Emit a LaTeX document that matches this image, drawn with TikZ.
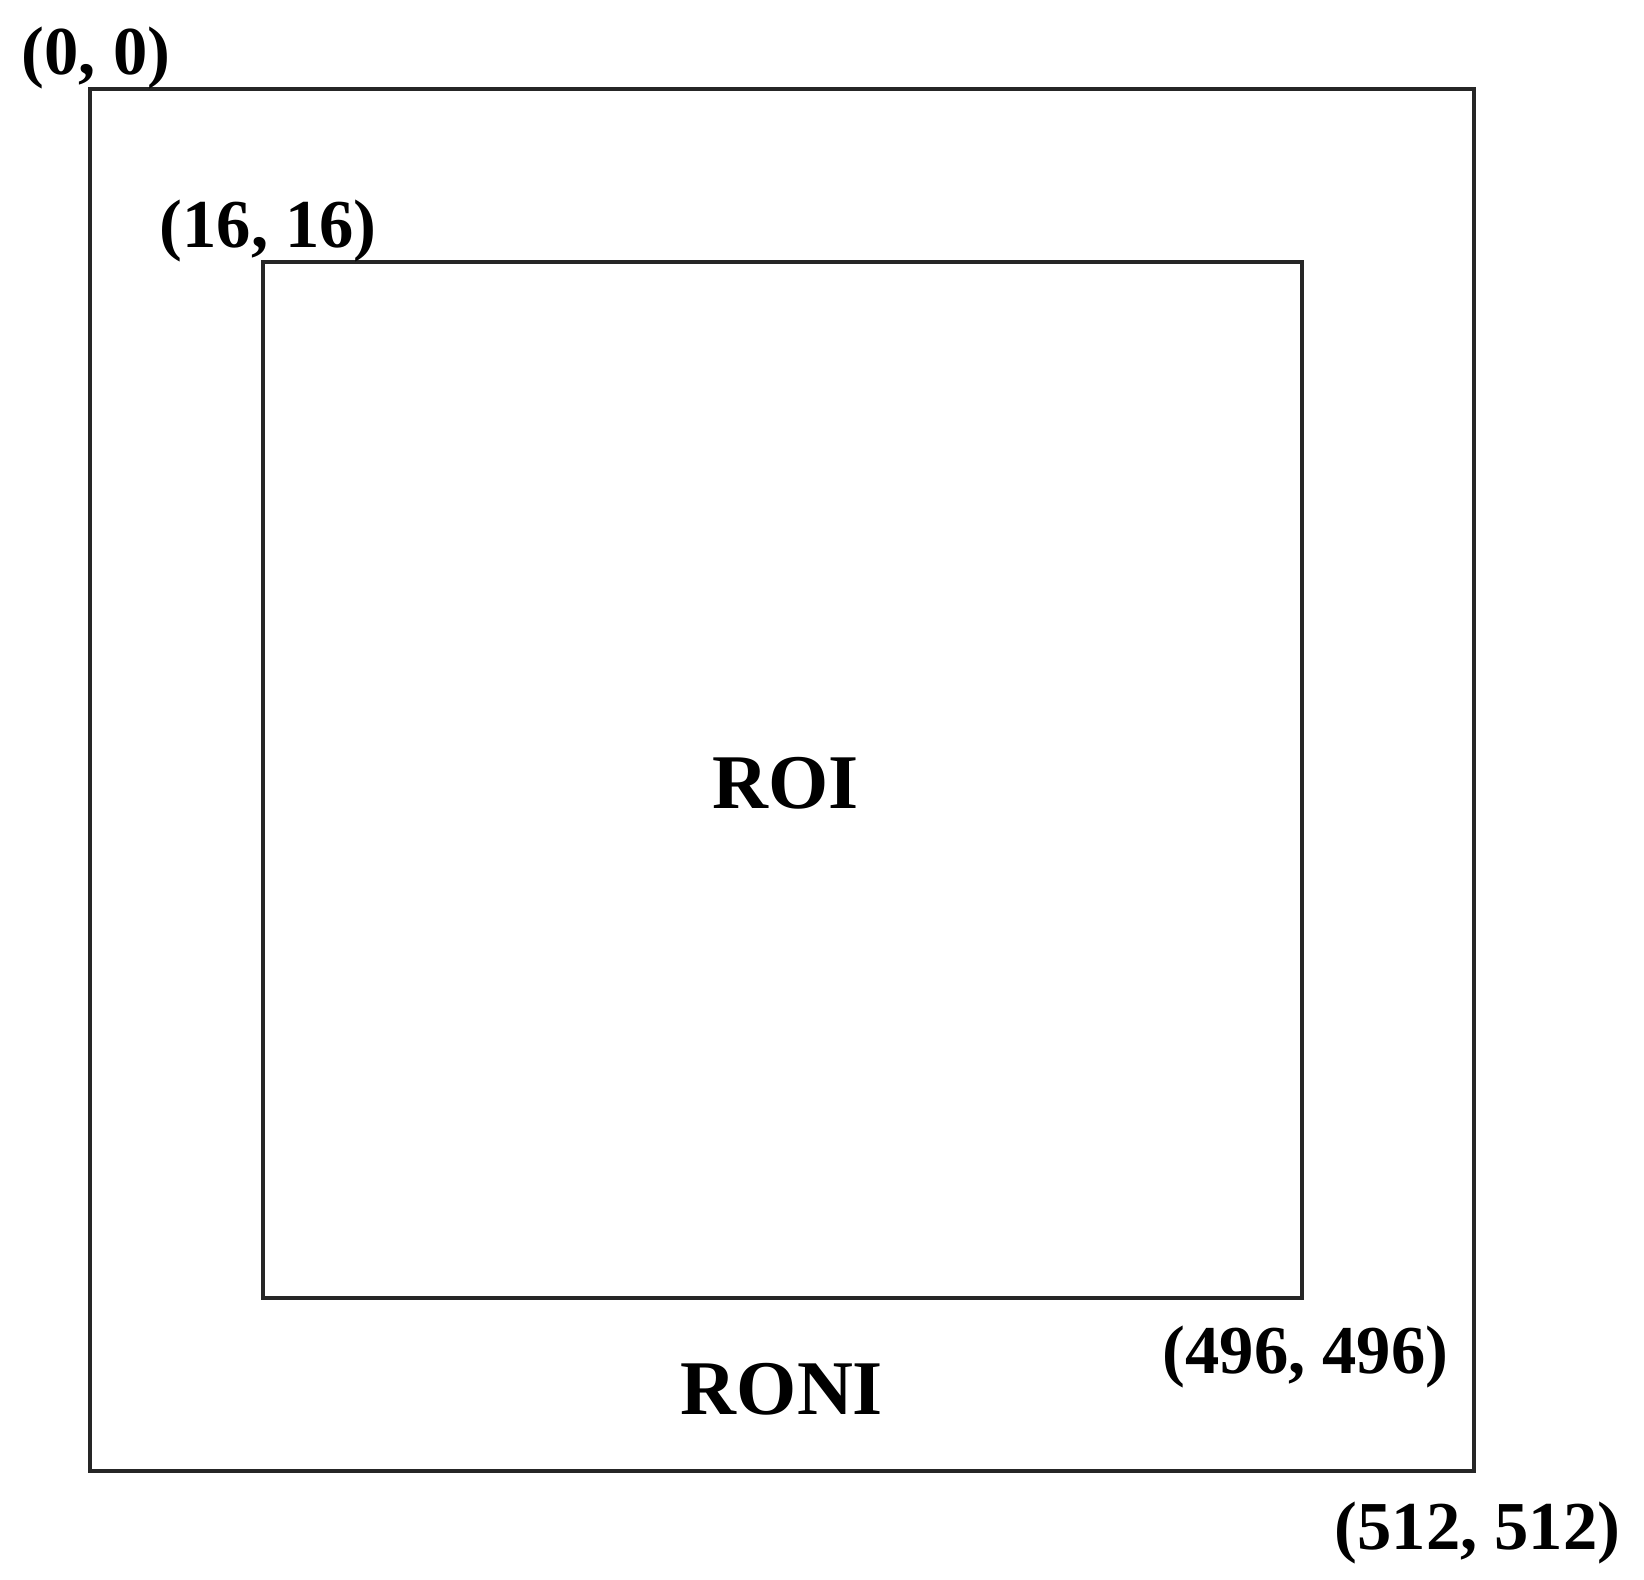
\documentclass[tikz,border=0pt]{standalone}
\usepackage{fontspec}
\setmainfont{Liberation Serif}
\begin{document}
\begin{tikzpicture}[x=0.01cm,y=-0.01cm,
  box/.style={draw=black!85,line width=1pt},
  coordlbl/.style={inner sep=0pt,font=\fontsize{19.5pt}{21pt}\selectfont\bfseries},
  regionlbl/.style={inner sep=0pt,font=\fontsize{22pt}{24pt}\selectfont\bfseries}]
\useasboundingbox (0,0) rectangle (1644,1580);
\draw[box] (90,89) rectangle (1474,1471);
\draw[box] (263,262) rectangle (1302,1298);
\node[coordlbl,anchor=base west] (c00) at (21,75) {(0, 0)};
\node[coordlbl,anchor=base west] (c16) at (159,248) {(16, 16)};
\node[regionlbl,anchor=base] (roi) at (786,809) {ROI};
\node[regionlbl,anchor=base] (roni) at (782,1415) {RONI};
\node[coordlbl,anchor=base west] (c496) at (1162,1374) {(496, 496)};
\node[coordlbl,anchor=base west] (c512) at (1334,1550) {(512, 512)};
\end{tikzpicture}
\end{document}
